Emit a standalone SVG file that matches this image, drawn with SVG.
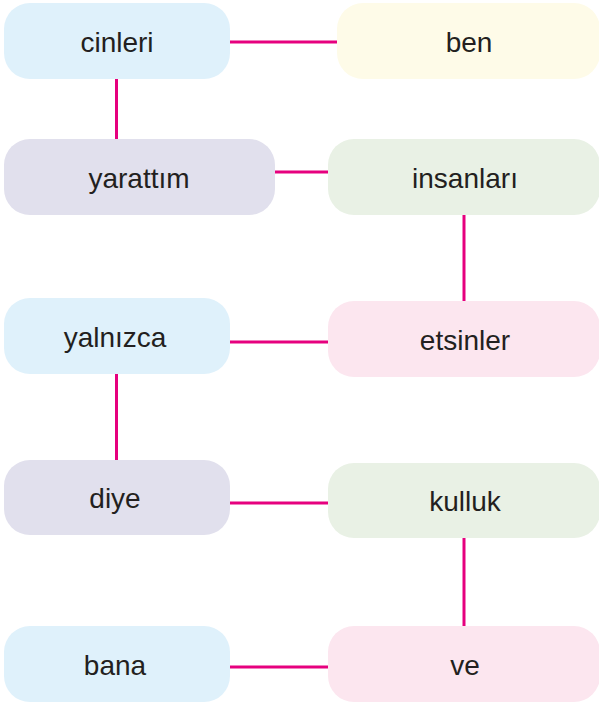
<svg xmlns="http://www.w3.org/2000/svg" width="599" height="703" viewBox="0 0 599 703">
<style>
.n{stroke:none}
.blue{fill:#dff1fb}
.yellow{fill:#fefbe8}
.lav{fill:#e1e0ed}
.green{fill:#e9f1e5}
.pink{fill:#fce6ef}
text{font-family:"Liberation Sans",Arial,sans-serif;font-size:28px;fill:#231f20;text-anchor:middle}
.c line{stroke:#e6007e;stroke-width:3}
</style>
<rect width="599" height="703" fill="#ffffff"/>
<g class="c" id="connectors">
<line x1="230" y1="42" x2="337" y2="42"/>
<line x1="116.5" y1="79" x2="116.5" y2="139"/>
<line x1="275" y1="172" x2="328" y2="172"/>
<line x1="464" y1="215" x2="464" y2="301"/>
<line x1="230" y1="342" x2="328" y2="342"/>
<line x1="116.5" y1="374" x2="116.5" y2="460"/>
<line x1="230" y1="503" x2="328" y2="503"/>
<line x1="464" y1="538" x2="464" y2="626"/>
<line x1="230" y1="667" x2="328" y2="667"/>
</g>
<g id="cinleri"><rect class="n blue" x="4" y="3" width="226" height="76" rx="26"/><text x="117" y="52">cinleri</text></g>
<g id="ben"><rect class="n yellow" x="337" y="3" width="263" height="76" rx="26"/><text x="469" y="52">ben</text></g>
<g id="yarattim"><rect class="n lav" x="4" y="139" width="271" height="76" rx="26"/><text x="139" y="188">yarattım</text></g>
<g id="insanlari"><rect class="n green" x="328" y="139" width="272" height="76" rx="26"/><text x="465" y="188">insanları</text></g>
<g id="yalnizca"><rect class="n blue" x="4" y="298" width="226" height="76" rx="26"/><text x="115" y="347">yalnızca</text></g>
<g id="etsinler"><rect class="n pink" x="328" y="301" width="272" height="76" rx="26"/><text x="465" y="350">etsinler</text></g>
<g id="diye"><rect class="n lav" x="4" y="460" width="226" height="75" rx="26"/><text x="115" y="508">diye</text></g>
<g id="kulluk"><rect class="n green" x="328" y="463" width="272" height="75" rx="26"/><text x="465" y="511">kulluk</text></g>
<g id="bana"><rect class="n blue" x="4" y="626" width="226" height="76" rx="26"/><text x="115" y="675">bana</text></g>
<g id="ve"><rect class="n pink" x="328" y="626" width="272" height="76" rx="26"/><text x="465" y="675">ve</text></g>
</svg>
